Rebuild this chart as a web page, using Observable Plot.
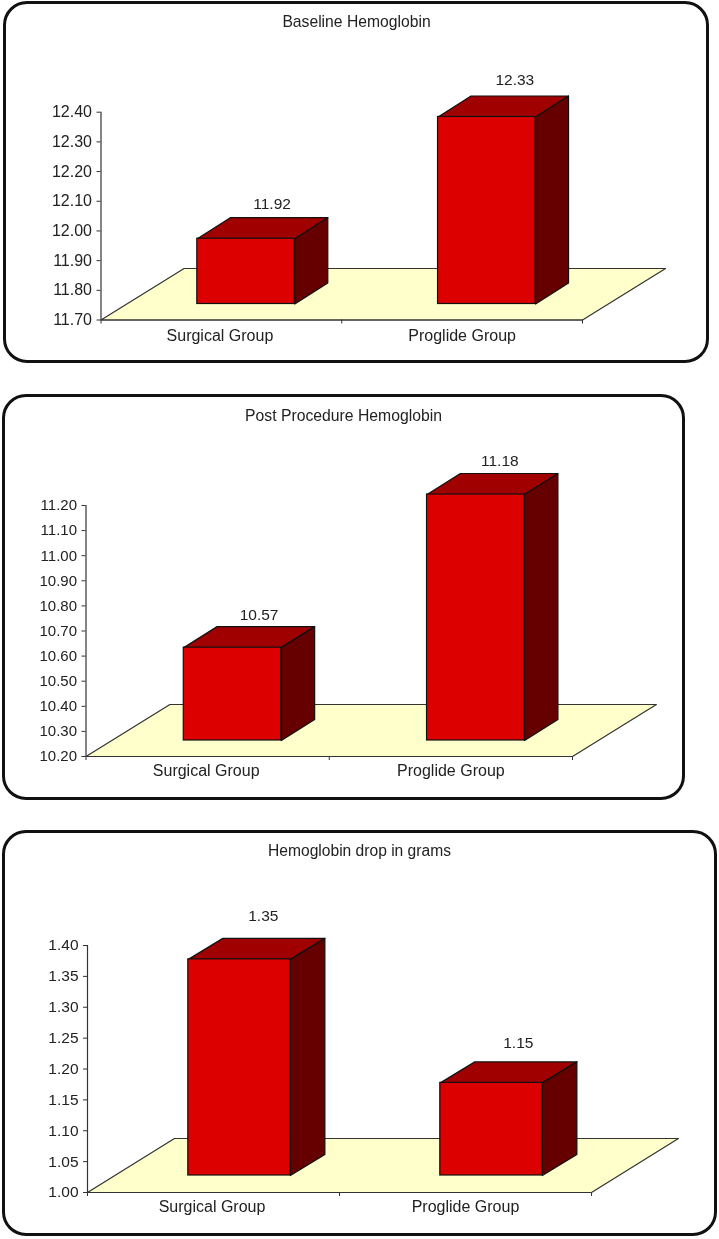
<!DOCTYPE html>
<html>
<head>
<meta charset="utf-8">
<script src="https://cdn.jsdelivr.net/npm/d3@7"></script>
<script src="https://cdn.jsdelivr.net/npm/@observablehq/plot@0.6"></script>
<style>
html,body{margin:0;padding:0;background:#fff;}
#page{position:relative;width:719px;height:1239px;overflow:hidden;font-family:"Liberation Sans",Arial,sans-serif;color:#222;filter:blur(0.4px);}
.frame{position:absolute;box-sizing:border-box;border:3px solid #111;border-radius:24px;}
.title{position:absolute;transform:translateX(-50%);white-space:nowrap;line-height:1;}
.chart{position:absolute;left:0;}
.chart svg{display:block;overflow:visible;}
</style>
</head>
<body>
<div id="page"></div>
<script>
const categories = ["Surgical Group", "Proglide Group"];

const titles = ["Baseline Hemoglobin", "Post Procedure Hemoglobin", "Hemoglobin drop in grams"];

const baselineValues = [11.92, 12.33];
const postProcedureValues = [10.57, 11.18];
const dropValues = [1.35, 1.15];

const baselineTicks = [11.7, 11.8, 11.9, 12.0, 12.1, 12.2, 12.3, 12.4];
const postProcedureTicks = [10.2, 10.3, 10.4, 10.5, 10.6, 10.7, 10.8, 10.9, 11.0, 11.1, 11.2];
const dropTicks = [1.0, 1.05, 1.1, 1.15, 1.2, 1.25, 1.3, 1.35, 1.4];

// Page layout, in pixels (not data)
const layouts = [
  {frame:[3,1,706,362], axisX:100.5, xEnd:582, yBottom:319.5, yTop:111.7, floorDy:51.5, baseDy:16, depthDy:21,
   tickFont:16, catPad:10, barStart:0.4, barEnd:0.805,
   titleX:356.5, titleY:21.7, titleFont:15.7, labelDx:[26,28], labelDy:[14,16]},
  {frame:[2,394,683,406], axisX:85.5, xEnd:572, yBottom:756, yTop:505, floorDy:52, baseDy:16, depthDy:21,
   tickFont:15, catPad:8.5, barStart:0.402, barEnd:0.803,
   titleX:343.5, titleY:415.7, titleFont:15.76, labelDx:[26.5,24], labelDy:[12,12]},
  {frame:[2,830,715,405.5], axisX:87, xEnd:591, yBottom:1192, yTop:945, floorDy:54, baseDy:17, depthDy:21,
   tickFont:15.5, catPad:8.5, barStart:0.4, barEnd:0.805,
   titleX:359.5, titleY:851, titleFont:15.6, labelDx:[24,27], labelDy:[22,19]}
];

const barDepth = 0.137, floorDepth = 0.345, catFont = 16, valueFont = 15.5;
const colors = {front:"#dd0000", top:"#a00000", side:"#660000", floor:"#ffffcc", line:"#111"};

const page = document.getElementById("page");

function panel(index, values, ticks) {
  const L = layouts[index];
  const [fx, fy, fw, fh] = L.frame;
  const yMin = ticks[0], yMax = ticks[ticks.length - 1];
  const perPx = (yMax - yMin) / (L.yBottom - L.yTop);
  const base = yMin + L.baseDy * perPx;
  const depthY = L.depthDy * perPx;
  const floorBack = yMin + L.floorDy * perPx;

  const floor = [[0, yMin], [2, yMin], [2 + floorDepth, floorBack], [floorDepth, floorBack]]
    .map(([x, y]) => ({x, y}));

  const bars = values.map((v, i) => ({
    x1: i + L.barStart, x2: i + L.barEnd, y1: base, y2: base + (v - yMin)
  }));
  const topFaces = bars.flatMap((b, i) => [
    {id:i, x:b.x1, y:b.y2}, {id:i, x:b.x2, y:b.y2},
    {id:i, x:b.x2 + barDepth, y:b.y2 + depthY}, {id:i, x:b.x1 + barDepth, y:b.y2 + depthY}
  ]);
  const sideFaces = bars.flatMap((b, i) => [
    {id:i, x:b.x2, y:b.y1}, {id:i, x:b.x2, y:b.y2},
    {id:i, x:b.x2 + barDepth, y:b.y2 + depthY}, {id:i, x:b.x2 + barDepth, y:b.y1 + depthY}
  ]);
  const labels = values.map((v, i) => ({
    x: (bars[i].x1 + bars[i].x2) / 2,
    y: bars[i].y2 + depthY,
    text: v.toFixed(2),
    dx: L.labelDx[i],
    dy: L.labelDy[i]
  }));

  const svg = Plot.plot({
    width: 719,
    height: fh,
    marginLeft: L.axisX,
    marginRight: 719 - L.xEnd,
    marginTop: L.yTop - fy,
    marginBottom: fy + fh - L.yBottom,
    style: {background: "transparent", fontFamily: '"Liberation Sans",Arial,sans-serif', overflow: "visible"},
    x: {domain: [0, 2]},
    y: {domain: [yMin, yMax]},
    marks: [
      Plot.line(floor, {x:"x", y:"y", fill:colors.floor, stroke:"#333", strokeWidth:1.2, curve:"linear-closed"}),
      Plot.ruleX([0], {y1:yMin, y2:yMax, stroke:"#333", strokeWidth:1.2}),
      Plot.ruleY([yMin], {x1:0, x2:2, stroke:"#333", strokeWidth:1.2}),
      Plot.axisY({ticks, tickFormat:d3.format(".2f"), tickSize:4, tickPadding:5, fontSize:L.tickFont, fill:"#222", stroke:"#333", label:null}),
      Plot.axisX({ticks:[0,1,2], tickFormat:() => "", tickSize:4, stroke:"#333", label:null}),
      Plot.axisX({ticks:[0.494,1.5], tickFormat:d => categories[Math.floor(d)], tickSize:0, tickPadding:L.catPad, fontSize:catFont, fill:"#222", label:null}),
      Plot.line(topFaces, {x:"x", y:"y", z:"id", fill:colors.top, stroke:colors.line, strokeWidth:1.2, curve:"linear-closed"}),
      Plot.line(sideFaces, {x:"x", y:"y", z:"id", fill:colors.side, stroke:colors.line, strokeWidth:1.2, curve:"linear-closed"}),
      Plot.rect(bars, {x1:"x1", x2:"x2", y1:"y1", y2:"y2", fill:colors.front, stroke:colors.line, strokeWidth:1.2}),
      ...labels.map(d => Plot.text([d], {x:"x", y:"y", text:"text", dx:d.dx, dy:-d.dy, fontSize:valueFont, fill:"#222"}))
    ]
  });

  const frame = document.createElement("div");
  frame.className = "frame";
  Object.assign(frame.style, {left:fx+"px", top:fy+"px", width:fw+"px", height:fh+"px"});
  page.appendChild(frame);

  const holder = document.createElement("div");
  holder.className = "chart";
  holder.style.top = fy + "px";
  holder.appendChild(svg);
  page.appendChild(holder);

  const title = document.createElement("div");
  title.className = "title";
  title.textContent = titles[index];
  Object.assign(title.style, {left:L.titleX+"px", top:(L.titleY - L.titleFont/2)+"px", fontSize:L.titleFont+"px"});
  page.appendChild(title);
}

panel(0, baselineValues, baselineTicks);
panel(1, postProcedureValues, postProcedureTicks);
panel(2, dropValues, dropTicks);
</script>
</body>
</html>
